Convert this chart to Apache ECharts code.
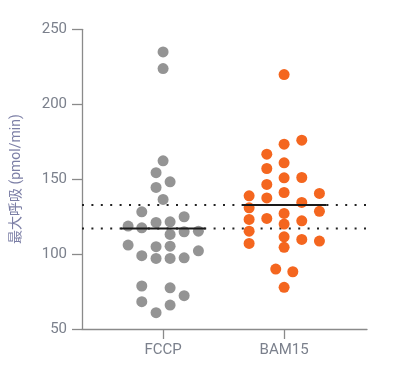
<!DOCTYPE html>
<html>
<head>
<meta charset="utf-8">
<script src="https://cdn.jsdelivr.net/npm/echarts@6/dist/echarts.min.js"></script>
<style>html,body{margin:0;padding:0;background:#fff;}#c{width:407px;height:373px;}</style>
</head>
<body>
<div id="c"></div>
<script>
// Categories and tick labels
const categories = ['FCCP', 'BAM15'];
const yTicks = [50, 100, 150, 200, 250];
const yAxisTitle = '最大呼吸 (pmol/min)';

// FCCP values (pmol/min) and horizontal swarm offsets (category units)
const fccpValues = [234.9, 223.8, 162.2, 154.3, 148.2, 144.5, 136.5, 128.2, 124.9, 118.7,
  117.5, 121.1, 121.5, 113.1, 114.9, 115.3, 106.0, 104.9, 105.3, 98.9,
  97.1, 97.1, 97.5, 102.2, 78.7, 77.5, 72.2, 68.2, 66.0, 60.9];
const fccpOffsets = [0, 0, 0, -0.058, 0.058, -0.058, 0, -0.176, 0.174, -0.289,
  -0.176, -0.058, 0.058, 0.058, 0.174, 0.292, -0.289, -0.058, 0.058, -0.176,
  -0.058, 0.058, 0.174, 0.292, -0.176, 0.058, 0.174, -0.176, 0.058, -0.058];

// BAM15 values and offsets
const bamValues = [219.8, 176.0, 173.3, 166.7, 160.9, 157.1, 150.9, 151.1, 146.5, 138.9,
  137.5, 141.1, 140.5, 134.5, 130.9, 128.5, 123.1, 123.8, 127.1, 120.0,
  122.2, 115.3, 111.5, 107.1, 104.5, 109.8, 108.7, 90.0, 88.2, 77.8];
const bamOffsets = [0, 0.146, 0, -0.143, 0, -0.143, 0, 0.146, -0.143, -0.289,
  -0.143, 0, 0.292, 0.146, -0.289, 0.292, -0.289, -0.143, 0, 0,
  0.146, -0.289, 0, -0.289, 0, 0.146, 0.292, -0.069, 0.072, 0];

// Medians (solid bars, extended as dotted reference lines)
const medians = [117.1, 132.8];

const colors = ['#949494', '#f4661f'];
const font = 'Roboto, "Noto Sans CJK SC", sans-serif';
const axisGray = '#8a8a8a';
const labelColor = '#7b808c';

const pts = (vals, offs, idx) => vals.map((v, i) => [idx + 1 + offs[i], v]);
const halfW = 0.35;
const xMin = 0.33, xMax = 2.685;

const series = [
  {type: 'scatter', data: pts(fccpValues, fccpOffsets, 0), symbolSize: 11,
   itemStyle: {color: colors[0], opacity: 1}, z: 3},
  {type: 'scatter', data: pts(bamValues, bamOffsets, 1), symbolSize: 11,
   itemStyle: {color: colors[1], opacity: 1}, z: 3}
];
medians.forEach((m, i) => {
  series.push({type: 'line', data: [[xMin, m], [xMax, m]], symbol: 'none', silent: true,
    lineStyle: {color: '#222', width: 2, type: [2, 7.4]}, z: 2});
  series.push({type: 'line', data: [[i + 1 - halfW, m], [i + 1 + halfW, m]], symbol: 'none', silent: true,
    lineStyle: {color: '#1a1a1a', width: 2}, z: 4});
});

const chart = echarts.init(document.getElementById('c'), null, {renderer: 'canvas'});
chart.setOption({
  animation: false,
  grid: {left: 82, right: 40, top: 29.3, bottom: 44, outerBoundsMode: 'none', containLabel: false},
  xAxis: {
    type: 'value', min: xMin, max: xMax,
    axisLine: {show: true, onZero: false, lineStyle: {color: axisGray, width: 1.3}},
    axisTick: {show: true, length: 10, customValues: [1, 2], lineStyle: {color: axisGray, width: 1.3}},
    axisLabel: {customValues: [1, 2], formatter: v => categories[Math.round(v) - 1], color: labelColor,
      fontSize: 15, fontFamily: font, margin: 14},
    splitLine: {show: false}
  },
  yAxis: {
    type: 'value', min: yTicks[0], max: yTicks[yTicks.length - 1], interval: 50,
    name: yAxisTitle, nameLocation: 'middle', nameGap: 59,
    nameTextStyle: {color: '#7c7fa6', fontSize: 14, fontFamily: font},
    axisLine: {show: true, lineStyle: {color: axisGray, width: 1.3}},
    axisTick: {show: true, length: 10, lineStyle: {color: axisGray, width: 1.3}},
    axisLabel: {color: labelColor, fontSize: 15, fontFamily: font, margin: 15},
    splitLine: {show: false}
  },
  series: series
});
</script>
</body>
</html>
